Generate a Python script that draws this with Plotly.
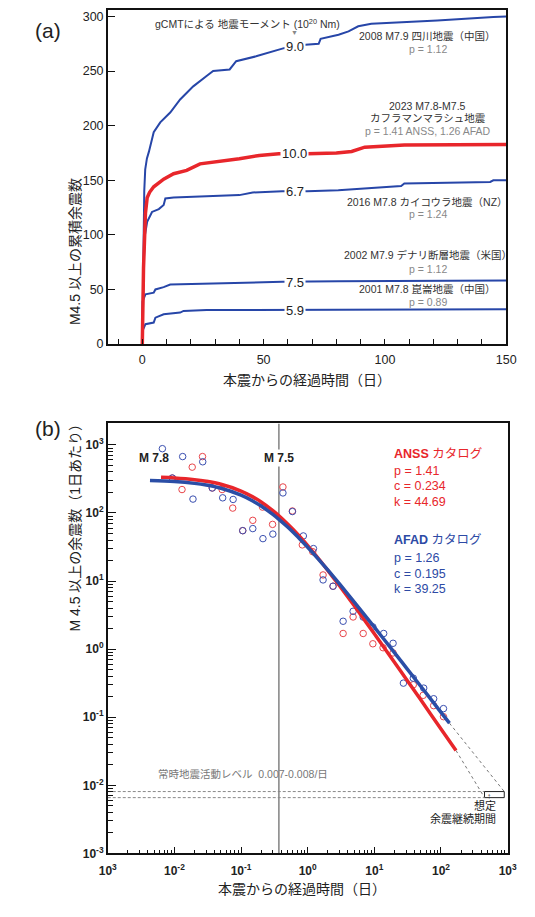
import plotly.graph_objects as go

W, H = 535, 917
FONT = "Liberation Sans, Noto Sans CJK JP, sans-serif"
RED = "#e8262b"
BLUE = "#2746a8"

def px(x):
    return x / W

def py(y):
    return 1 - y / H

# ---------------- Panel (a): cumulative aftershock counts ----------------
wen_t = [0, 0.2, 0.5, 0.8, 1.2, 1.9, 2.7, 4.7, 7.4, 11.5, 15.6, 21, 26.5, 29.2, 36, 38.7, 46.9, 53.7, 58.4,
         67.2, 72.7, 73.5, 80.9, 85, 89, 94.4, 110, 121.6, 144.7, 150]
wen_n = [0, 50, 105, 140, 160, 170, 176, 194, 203, 212, 224, 236, 245.5, 250, 251.5, 259, 263.5, 268, 271,
         274, 275, 279.5, 283.3, 286.4, 291, 293.4, 295, 296.4, 299.6, 300]

kah_t = [0, 0.2, 0.5, 0.9, 1.3, 2.0, 3.0, 4.7, 8.8, 12.9, 18.3, 23.8, 33.3, 40, 48.2, 56.3, 67.9, 80, 86.3,
         91.7, 108, 150]
kah_n = [0, 40, 70, 95, 120, 134, 139, 144, 151, 156, 159, 165, 167.3, 169.7, 172.7, 174.2, 174.2, 175,
         176.4, 180.3, 182.4, 182.7]

kai_t = [0, 0.3, 0.7, 1.1, 2.0, 4.0, 6.8, 8.8, 9.5, 12.9, 40, 45.5, 50.9, 57.7, 67.9, 80.8, 106.7, 108,
         143.4, 144.7, 150]
kai_n = [0, 40, 80, 100, 112, 121, 123.6, 127.3, 133.3, 134.2, 136.4, 138.8, 139.4, 140, 140, 140.9, 144.8,
         147, 148.5, 150, 150]

den_t = [0, 0.1, 1.3, 4.7, 5.4, 8.8, 11.5, 26.5, 57.7, 80.8, 150]
den_n = [0, 39, 45.5, 47, 50, 52.1, 54.5, 55.5, 57, 57.6, 58.2]

kun_t = [0, 0.1, 1.3, 4.7, 5.4, 8.8, 15.6, 17, 26.5, 57.7, 150]
kun_n = [0, 12, 18.2, 19.7, 24.2, 27.3, 28.8, 30.3, 31.2, 31.2, 31.8]

moment_labels = ["9.0", "10.0", "6.7", "7.5", "5.9"]
moment_y = [272.7, 174.2, 140, 56.7, 30.9]
moment_x = 62.9

event_labels = ["2008 M7.9 四川地震（中国）", "2023 M7.8-M7.5", "カフラマンマラシュ地震",
                "2016 M7.8 カイコウラ地震（NZ）", "2002 M7.9 デナリ断層地震（米国）", "2001 M7.8 崑崙地震（中国）"]
event_y = [282.5, 218.2, 207, 130.4, 81.3, 50]
pval_labels = ["p = 1.12", "p = 1.41 ANSS, 1.26 AFAD", "p = 1.24", "p = 1.12", "p = 0.89"]
pval_y = [270.4, 194.9, 119.1, 69.1, 38.5]
label_x = 117.6

# ---------------- Panel (b): aftershock rate (Omori) ----------------
anss_t = [0.0093, 0.013, 0.0185, 0.0264, 0.037, 0.052, 0.075, 0.106, 0.15, 0.21, 0.297, 0.425, 0.59, 0.83,
          1.19, 1.70, 2.40, 3.4, 4.8, 6.8, 9.5, 13.5, 19.1, 38.4, 54, 77.6, 109]
anss_n = [326, 221, 471, 674, 233, 221, 118, 55, 78, 122, 68, 241, 107, 34,
          27, 12.3, 8.4, 1.70, 2.97, 1.70, 1.2, 1.05, 0.88, 0.30, 0.21, 0.148, 0.102]

afad_t = [0.0066, 0.0093, 0.0133, 0.019, 0.0266, 0.037, 0.053, 0.076, 0.106, 0.15, 0.213, 0.30, 0.425, 0.59,
          0.86, 1.22, 1.70, 2.40, 3.4, 4.8, 6.8, 9.5, 13.8, 19.1, 27.3, 38.4, 55, 77.6, 109]
afad_n = [880, 326, 674, 160, 565, 233, 167, 158, 55, 59, 42, 49, 197, 105,
          46, 30, 10.4, 8.4, 2.57, 3.6, 2.96, 2.12, 1.70, 1.22, 0.317, 0.375, 0.268, 0.187, 0.134]

anss_fit_t = [0.0063, 0.01, 0.02, 0.03, 0.05, 0.1, 0.15, 0.2, 0.3, 0.37, 0.5, 0.6, 0.8, 1, 1.5, 2, 3, 5, 10,
              20, 30, 50, 100, 168]
anss_fit_n = [333.7, 326.6, 308.6, 292.2, 263.7, 209.8, 172.3, 145.0, 108.2, 91.0, 69.1, 57.7, 42.6, 33.2,
              20.57, 14.39, 8.54, 4.33, 1.683, 0.6436, 0.3654, 0.1786, 0.06742, 0.0325]
afad_fit_t = [0.0043, 0.01, 0.02, 0.03, 0.05, 0.1, 0.15, 0.2, 0.3, 0.37, 0.5, 0.6, 0.8, 1, 1.5, 2, 3, 5, 10,
              20, 30, 50, 100, 134]
afad_fit_n = [299.6, 289.1, 272.2, 257.1, 230.9, 182.8, 150.0, 126.5, 95.2, 80.6, 62.1, 52.4, 39.5, 31.36,
              20.19, 14.58, 9.08, 4.92, 2.105, 0.8896, 0.5358, 0.2825, 0.1182, 0.0818]

anss_ext_t = [168, 450]
anss_ext_n = [0.0325, 0.0066]
afad_ext_t = [134, 890]
afad_ext_n = [0.0818, 0.0081]

bg_level = [0.0081, 0.0066]
bg_t = [0.001, 450]
box_t = [450, 890, 890, 450, 450]
box_n = [0.0066, 0.0066, 0.0081, 0.0081, 0.0066]

m75_t = 0.37

anss_params = ["p = 1.41", "c = 0.234", "k = 44.69"]
afad_params = ["p = 1.26", "c = 0.195", "k = 39.25"]

decades = [1e-3, 1e-2, 1e-1, 1, 10, 100, 1000]
xtick_text = ["10<sup>3</sup>", "10<sup>-2</sup>", "10<sup>-1</sup>", "10<sup>0</sup>",
              "10<sup>1</sup>", "10<sup>2</sup>", "10<sup>3</sup>"]
ytick_text = ["10<sup>-3</sup>", "10<sup>-2</sup>", "10<sup>-1</sup>", "10<sup>0</sup>",
              "10<sup>1</sup>", "10<sup>2</sup>", "10<sup>3</sup>"]
minor_vals = [m * d for d in [1e-3, 1e-2, 1e-1, 1, 10, 100] for m in range(2, 10)]

fig = go.Figure()

# panel (a) traces
for t, n in [(wen_t, wen_n), (kai_t, kai_n), (den_t, den_n), (kun_t, kun_n)]:
    fig.add_trace(go.Scatter(x=t, y=n, mode="lines", line=dict(color=BLUE, width=2),
                             xaxis="x", yaxis="y", showlegend=False, hoverinfo="skip"))
fig.add_trace(go.Scatter(x=kah_t, y=kah_n, mode="lines", line=dict(color=RED, width=3.5),
                         xaxis="x", yaxis="y", showlegend=False, hoverinfo="skip"))

# panel (b) traces
fig.add_trace(go.Scatter(x=[m75_t, m75_t], y=[1e-3, 10 ** 3.315], mode="lines",
                         line=dict(color="#444", width=1), xaxis="x2", yaxis="y2", showlegend=False))
for lv in bg_level:
    fig.add_trace(go.Scatter(x=bg_t, y=[lv, lv], mode="lines", line=dict(color="#888", width=1, dash="3px,2px"),
                             xaxis="x2", yaxis="y2", showlegend=False))
fig.add_trace(go.Scatter(x=box_t, y=box_n, mode="lines", line=dict(color="#222", width=1),
                         xaxis="x2", yaxis="y2", showlegend=False))
fig.add_trace(go.Scatter(x=anss_ext_t, y=anss_ext_n, mode="lines", line=dict(color="#777", width=1, dash="dot"),
                         xaxis="x2", yaxis="y2", showlegend=False))
fig.add_trace(go.Scatter(x=afad_ext_t, y=afad_ext_n, mode="lines", line=dict(color="#777", width=1, dash="dot"),
                         xaxis="x2", yaxis="y2", showlegend=False))
fig.add_trace(go.Scatter(x=anss_t, y=anss_n, mode="markers",
                         marker=dict(symbol="circle-open", size=6.5, color="#e8454a", line=dict(width=1)),
                         xaxis="x2", yaxis="y2", showlegend=False))
fig.add_trace(go.Scatter(x=afad_t, y=afad_n, mode="markers",
                         marker=dict(symbol="circle-open", size=6.5, color="#3a4fb0", line=dict(width=1)),
                         xaxis="x2", yaxis="y2", showlegend=False))
fig.add_trace(go.Scatter(x=anss_fit_t, y=anss_fit_n, mode="lines", line=dict(color=RED, width=3.5, shape="spline"),
                         xaxis="x2", yaxis="y2", showlegend=False))
fig.add_trace(go.Scatter(x=afad_fit_t, y=afad_fit_n, mode="lines", line=dict(color="#2b4ea6", width=3.5, shape="spline"),
                         xaxis="x2", yaxis="y2", showlegend=False))

ann = []
# (a) moment labels on lines
for lab, yv in zip(moment_labels, moment_y):
    ann.append(dict(x=moment_x, y=yv, xref="x", yref="y", text=lab, showarrow=False,
                    font=dict(size=13, color="#222"), bgcolor="white", borderpad=1))
ann.append(dict(x=43.5, y=293.4, xref="x", yref="y", showarrow=False,
                text="gCMTによる 地震モーメント (10<sup>20</sup> Nm)", font=dict(size=10.5, color="#333")))
ann.append(dict(x=moment_x, y=284.9, xref="x", yref="y", showarrow=False, text="▼",
                font=dict(size=7, color="#888")))
for lab, yv in zip(event_labels, event_y):
    ann.append(dict(x=label_x, y=yv, xref="x", yref="y", text=lab, showarrow=False,
                    font=dict(size=10.5, color="#333")))
for lab, yv in zip(pval_labels, pval_y):
    ann.append(dict(x=label_x, y=yv, xref="x", yref="y", text=lab, showarrow=False,
                    font=dict(size=10.5, color="#888")))

# panel letters
ann.append(dict(x=px(25), y=py(17), xref="paper", yref="paper", text="(a)", showarrow=False,
                font=dict(size=21, color="#222")))
ann.append(dict(x=px(25), y=py(432), xref="paper", yref="paper", text="(b)", showarrow=False,
                font=dict(size=21, color="#222")))

# axis titles
ann.append(dict(x=px(309), y=py(383), xref="paper", yref="paper", text="本震からの経過時間（日）", showarrow=False,
                font=dict(size=14, color="#222")))
ann.append(dict(x=px(58), y=py(177), xref="paper", yref="paper", text="M4.5 以上の累積余震数", showarrow=False,
                textangle=-90, font=dict(size=14, color="#222")))
ann.append(dict(x=px(304), y=py(906), xref="paper", yref="paper", text="本震からの経過時間（日）", showarrow=False,
                font=dict(size=14, color="#222")))
ann.append(dict(x=px(58), y=py(638), xref="paper", yref="paper", text="M 4.5 以上の余震数（1日あたり）",
                showarrow=False, textangle=-90, font=dict(size=14, color="#222")))

# (b) labels
ann.append(dict(x=px(133), y=py(462), xref="paper", yref="paper", text="<b>M 7.8</b>", showarrow=False,
                font=dict(size=12, color="#222")))
ann.append(dict(x=px(280), y=py(462), xref="paper", yref="paper", text="<b>M 7.5</b>", showarrow=False,
                font=dict(size=12, color="#222"), bgcolor="white", borderpad=1))
ann.append(dict(x=px(397), y=py(457), xref="paper", yref="paper", xanchor="left", text="<b>ANSS</b> カタログ",
                showarrow=False, font=dict(size=12.5, color=RED)))
for i, lab in enumerate(anss_params):
    ann.append(dict(x=px(397), y=py(475 + 15.2 * i), xref="paper", yref="paper", xanchor="left", text=lab,
                    showarrow=False, font=dict(size=12.5, color=RED)))
ann.append(dict(x=px(397), y=py(544), xref="paper", yref="paper", xanchor="left", text="<b>AFAD</b> カタログ",
                showarrow=False, font=dict(size=12.5, color="#2d4aa5")))
for i, lab in enumerate(afad_params):
    ann.append(dict(x=px(397), y=py(562 + 16 * i), xref="paper", yref="paper", xanchor="left", text=lab,
                    showarrow=False, font=dict(size=12.5, color="#2d4aa5")))
ann.append(dict(x=px(152), y=py(788), xref="paper", yref="paper", xanchor="left",
                text="常時地震活動レベル  0.007-0.008/日", showarrow=False, font=dict(size=10.5, color="#777")))
ann.append(dict(x=px(502), y=py(809), xref="paper", yref="paper", text="↑", showarrow=False,
                font=dict(size=8, color="#444")))
ann.append(dict(x=px(507), y=py(820), xref="paper", yref="paper", xanchor="right", text="想定", showarrow=False,
                font=dict(size=11, color="#222")))
ann.append(dict(x=px(507), y=py(833), xref="paper", yref="paper", xanchor="right", text="余震継続期間",
                showarrow=False, font=dict(size=11, color="#222")))

axis_common = dict(showline=True, linecolor="#111", linewidth=1.6, mirror=True, showgrid=False, zeroline=False)

fig.update_layout(
    width=W, height=H, autosize=False,
    margin=dict(l=0, r=0, t=0, b=0),
    paper_bgcolor="white", plot_bgcolor="white",
    font=dict(family=FONT, color="#222"),
    showlegend=False,
    annotations=ann,
    xaxis=dict(domain=[px(102.5), px(515.5)], anchor="y", range=[-14.2, 150], tick0=0, dtick=50,
               ticks="inside", ticklen=5, tickcolor="#111", tickfont=dict(size=12.5, color="#222"),
               ticklabelstandoff=3,
               minor=dict(dtick=10, ticks="inside", ticklen=5, tickcolor="#111"), **axis_common),
    yaxis=dict(domain=[py(346.7), py(10)], anchor="x", range=[0, 306], tick0=0, dtick=50,
               ticks="inside", ticklen=7, tickcolor="#111", tickfont=dict(size=12.5, color="#222"), **axis_common),
    xaxis2=dict(domain=[px(102.4), px(517)], anchor="y2", type="log", range=[-3, 3],
                tickmode="array", tickvals=decades, ticktext=["<b>%s</b>" % t for t in xtick_text],
                ticks="inside", ticklen=7, tickcolor="#111", tickfont=dict(size=12, color="#222"),
                ticklabelstandoff=5,
                minor=dict(tickmode="array", tickvals=minor_vals, ticks="inside", ticklen=4, tickcolor="#111"),
                **axis_common),
    yaxis2=dict(domain=[py(860), py(426.7)], anchor="x2", type="log", range=[-3, 3.315],
                tickmode="array", tickvals=decades, ticktext=["<b>%s</b>" % t for t in ytick_text],
                ticks="inside", ticklen=8, tickcolor="#111", tickfont=dict(size=12, color="#222"),
                minor=dict(tickmode="array", tickvals=minor_vals, ticks="inside", ticklen=5, tickcolor="#111"),
                **axis_common),
)

fig.write_html("out.html")
